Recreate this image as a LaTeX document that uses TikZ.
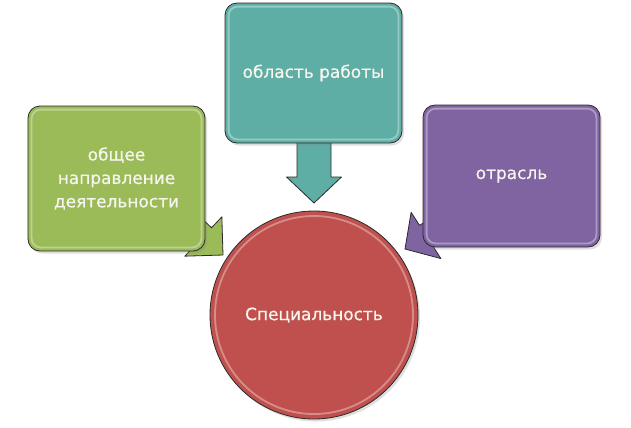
\documentclass[tikz,border=0pt]{standalone}
\usepackage{fontspec}
\setmainfont[FakeBold=0.6]{DejaVu Sans}
\usetikzlibrary{calc,shadows}
\pgfdeclarelayer{bg}
\pgfsetlayers{bg,main}
\definecolor{grn}{HTML}{9BBB59}
\definecolor{tea}{HTML}{5FAEA6}
\definecolor{pur}{HTML}{8064A2}
\definecolor{redc}{HTML}{C0504D}
\definecolor{txt}{HTML}{F6F6EE}
\definecolor{edge}{HTML}{2A2A2A}
\tikzset{
  ahl/.store in=\ahl, ahw/.store in=\ahw, asw/.store in=\asw,
  ahl=27bp, ahw=27bp, asw=12bp,
  blockarrow/.style={draw=edge, line width=0.8bp, line join=round,
    to path={let \p1=($(\tikztotarget)!\ahl!(\tikztostart)$) in
      ($(\tikztostart)!\asw!90:(\tikztotarget)$) --
      ($(\p1)!\asw!90:(\tikztotarget)$) --
      ($(\p1)!\ahw!90:(\tikztotarget)$) --
      (\tikztotarget) --
      ($(\p1)!\ahw!-90:(\tikztotarget)$) --
      ($(\p1)!\asw!-90:(\tikztotarget)$) --
      ($(\tikztostart)!\asw!-90:(\tikztotarget)$) -- cycle}},
  box/.style={draw=edge, line width=0.8bp, rounded corners=12bp,
    minimum width=177bp, inner sep=0pt, align=center, text=txt,
    font=\fontsize{17}{23.5}\selectfont,
    drop shadow={shadow xshift=2bp, shadow yshift=-2.5bp, opacity=0.25}},
  gloss/.style={draw=white, draw opacity=0.35, line width=1.8bp, rounded corners=9bp},
}
\begin{document}
\begin{tikzpicture}[x=1bp,y=-1bp]
\useasboundingbox (0,0) rectangle (631,427);

\node[box, fill=grn, minimum height=145bp] (dir) at (116.5,178.5) {общее\\направление\\деятельности};
\node[box, fill=tea, minimum height=140bp] (area) at (313.5,73) {область работы};
\node[box, fill=pur, minimum height=142bp] (ind) at (511.5,176) {отрасль};
\node[circle, draw=edge, line width=0.8bp, fill=redc, minimum size=208bp, inner sep=0pt,
  text=txt, font=\fontsize{17}{20}\selectfont,
  drop shadow={shadow xshift=2bp, shadow yshift=-2.5bp, opacity=0.25}] (spec) at (314,315) {Специальность};

\draw[gloss] ($(dir.north west)+(4,4)$) rectangle ($(dir.south east)+(-4,-4)$);
\draw[gloss] ($(area.north west)+(4,4)$) rectangle ($(area.south east)+(-4,-4)$);
\draw[gloss] ($(ind.north west)+(4,4)$) rectangle ($(ind.south east)+(-4,-4)$);
\draw[draw=white, draw opacity=0.35, line width=1.8bp] (spec.center) circle[radius=99bp];

\coordinate (gs) at (172,207);
\coordinate (gt) at (223,255);
\coordinate (ts) at (314,100);
\coordinate (tt) at (314,203);
\coordinate (ps) at (464,211);
\coordinate (pt) at (405,249);

\begin{pgfonlayer}{bg}
\draw[blockarrow, fill=grn] (gs) to (gt);
\draw[blockarrow, fill=tea, asw=17bp, ahw=27.5bp, ahl=26bp] (ts) to (tt);
\draw[blockarrow, fill=pur, ahl=25bp, ahw=27.5bp] (ps) to (pt);
\end{pgfonlayer}
\end{tikzpicture}
\end{document}
